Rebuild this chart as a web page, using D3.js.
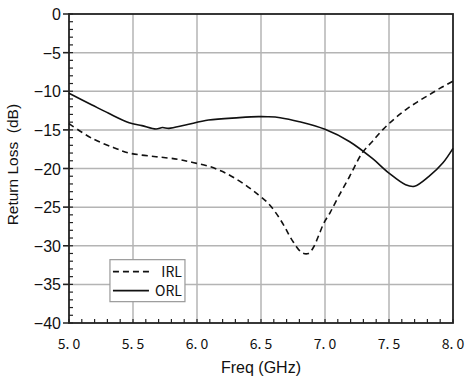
<!DOCTYPE html>
<html>
<head>
<meta charset="utf-8">
<script src="https://cdn.jsdelivr.net/npm/d3@7"></script>
<style>
  body { margin: 0; background: #fff; }
  svg { display: block; }
</style>
</head>
<body>
<div id="chart"></div>
<script>
// data
const irlFreq = [5.0, 5.18, 5.35, 5.47, 5.68, 5.85, 5.96, 6.09, 6.2, 6.3, 6.4, 6.48, 6.55, 6.61, 6.68, 6.74, 6.82, 6.87, 6.91, 6.95, 6.99, 7.04, 7.1, 7.19, 7.29, 7.37, 7.45, 7.54, 7.63, 7.72, 7.81, 7.9, 8.0];
const irlDb   = [-14.2, -16.1, -17.3, -18.0, -18.47, -18.8, -19.2, -19.7, -20.4, -21.3, -22.4, -23.4, -24.4, -25.6, -27.4, -29.2, -30.9, -31.0, -30.2, -28.7, -27.1, -25.7, -23.8, -21.1, -18.0, -16.5, -15.0, -13.6, -12.4, -11.4, -10.5, -9.6, -8.7];

const orlFreq = [5.0, 5.18, 5.31, 5.47, 5.57, 5.68, 5.73, 5.78, 5.91, 6.09, 6.33, 6.48, 6.55, 6.65, 6.8, 7.0, 7.19, 7.37, 7.5, 7.63, 7.7, 7.81, 7.92, 8.0];
const orlDb   = [-10.27, -11.78, -12.86, -14.07, -14.45, -14.89, -14.7, -14.8, -14.37, -13.72, -13.42, -13.29, -13.3, -13.42, -13.94, -14.93, -16.5, -18.7, -20.6, -22.1, -22.3, -21.06, -19.3, -17.4];

const xTicks = [5.0, 5.5, 6.0, 6.5, 7.0, 7.5, 8.0];
const yTicks = [0, -5, -10, -15, -20, -25, -30, -35, -40];
const legendNames = ["IRL", "ORL"];

const W = 465, H = 377;
const margin = { top: 14, right: 12, bottom: 54, left: 69 };
const width = W - margin.left - margin.right;
const height = H - margin.top - margin.bottom;

const svg = d3.select("#chart").append("svg")
  .attr("width", W).attr("height", H);
const g = svg.append("g")
  .attr("transform", `translate(${margin.left},${margin.top})`);

const x = d3.scaleLinear().domain([5, 8]).range([0, width]);
const y = d3.scaleLinear().domain([-40, 0]).range([height, 0]);

// grid
g.append("g").selectAll("line").data(xTicks.slice(1, -1)).join("line")
  .attr("x1", d => x(d)).attr("x2", d => x(d))
  .attr("y1", 0).attr("y2", height)
  .attr("stroke", "#b4b4b4").attr("stroke-width", 1.5);
g.append("g").selectAll("line").data(yTicks.slice(1, -1)).join("line")
  .attr("x1", -6).attr("x2", width)
  .attr("y1", d => y(d)).attr("y2", d => y(d))
  .attr("stroke", "#b4b4b4").attr("stroke-width", 1.5);

// minor ticks (inside)
g.append("g").selectAll("line").data(d3.range(-40, 1, 1)).join("line")
  .attr("x1", 0).attr("x2", 4)
  .attr("y1", d => y(d)).attr("y2", d => y(d))
  .attr("stroke", "#222").attr("stroke-width", 1.2);
g.append("g").selectAll("line").data(d3.range(50, 81, 1).map(v => v / 10)).join("line")
  .attr("x1", d => x(d)).attr("x2", d => x(d))
  .attr("y1", height).attr("y2", height - 4)
  .attr("stroke", "#222").attr("stroke-width", 1.2);
// major ticks outside on y
g.append("g").selectAll("line").data(yTicks).join("line")
  .attr("x1", -6).attr("x2", 0)
  .attr("y1", d => y(d)).attr("y2", d => y(d))
  .attr("stroke", "#222").attr("stroke-width", 1.5);

// frame
g.append("rect").attr("width", width).attr("height", height)
  .attr("fill", "none").attr("stroke", "#222").attr("stroke-width", 1.8);

// tick labels
g.append("g").selectAll("text").data(yTicks).join("text")
  .attr("x", -8).attr("y", d => y(d) + 6)
  .attr("text-anchor", "end")
  .style("font-family", "Liberation Sans, Arial, sans-serif")
  .style("font-size", "16px").attr("fill", "#111")
  .text(d => d === 0 ? "0" : "\u2212" + Math.abs(d));

g.append("g").selectAll("text").data(xTicks).join("text")
  .attr("x", d => x(d)).attr("y", height + 26)
  .attr("text-anchor", "middle")
  .attr("xml:space", "preserve")
  .style("white-space", "pre")
  .style("font-family", "Noto Sans CJK JP, sans-serif")
  .style("font-size", "14px").attr("fill", "#111")
  .text(d => d3.format(".1f")(d).replace(".", ". "));

// axis titles
g.append("text")
  .attr("x", width / 2).attr("y", height + 50)
  .attr("text-anchor", "middle")
  .style("font-family", "Liberation Sans, Arial, sans-serif")
  .style("font-size", "16px").attr("fill", "#111")
  .text("Freq (GHz)");
g.append("text")
  .attr("transform", `translate(${-margin.left + 18},${y(-19.5)}) rotate(-90)`)
  .attr("text-anchor", "middle")
  .style("white-space", "pre")
  .style("font-family", "Liberation Sans, Arial, sans-serif")
  .style("font-size", "15.5px").attr("fill", "#111")
  .text("Return Loss  (dB)");

// curves
const line = d3.line().x(d => x(d[0])).y(d => y(d[1])).curve(d3.curveCatmullRom);
const irl = d3.zip(irlFreq, irlDb);
const orl = d3.zip(orlFreq, orlDb);

g.append("path").datum(irl).attr("d", line)
  .attr("fill", "none").attr("stroke", "#111").attr("stroke-width", 1.6)
  .attr("stroke-dasharray", "6,4");
g.append("path").datum(orl).attr("d", line)
  .attr("fill", "none").attr("stroke", "#111").attr("stroke-width", 1.6);

// legend
const leg = g.append("g").attr("transform", `translate(${x(5.32)},${y(-31.8)})`);
leg.append("rect").attr("width", 75).attr("height", 42)
  .attr("fill", "#fff").attr("stroke", "#999").attr("stroke-width", 1.2);
legendNames.forEach((name, i) => {
  const ly = 12 + i * 19;
  leg.append("line").attr("x1", 3).attr("x2", 39).attr("y1", ly).attr("y2", ly)
    .attr("stroke", "#111").attr("stroke-width", 1.6)
    .attr("stroke-dasharray", i === 0 ? "6,4" : null);
  leg.append("text").attr("x", 72).attr("y", ly + 5)
    .attr("text-anchor", "end")
    .style("font-family", "Noto Sans CJK JP, sans-serif")
    .style("font-size", "14px").attr("fill", "#111")
    .text(name);
});
</script>
</body>
</html>
